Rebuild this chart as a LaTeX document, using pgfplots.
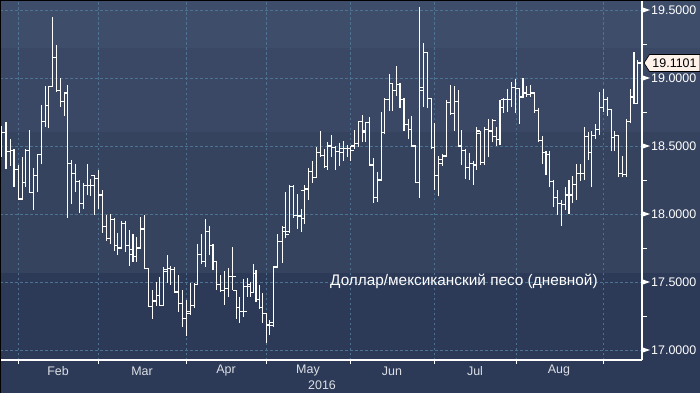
\documentclass[border=0pt]{standalone}
\usepackage{pgfplots}
\pgfplotsset{compat=1.18}
\usepackage{pgfplotstable}
\usepackage{fontspec}
\setmainfont{Liberation Sans}
\definecolor{bgA}{HTML}{3E4D6A}
\definecolor{bgB}{HTML}{3A4866}
\definecolor{bgC}{HTML}{35435F}
\definecolor{bgD}{HTML}{2C3957}
\definecolor{gridc}{HTML}{4E7291}
\definecolor{labc}{HTML}{DCE0E6}
\definecolor{tagc}{HTML}{FDF1EA}
\pgfdeclareplotmark{openTick}{\pgfpathmoveto{\pgfpoint{-3.4bp}{0pt}}\pgfpathlineto{\pgfpoint{0.5bp}{0pt}}\pgfusepathqstroke}
\pgfdeclareplotmark{closeTick}{\pgfpathmoveto{\pgfpoint{-0.5bp}{0pt}}\pgfpathlineto{\pgfpoint{3.4bp}{0pt}}\pgfusepathqstroke}
\pgfplotstableread{
x o h l c
1.7 18.50 18.65 18.42 18.60
6.0 18.60 18.68 18.33 18.46
10.3 18.46 18.55 18.35 18.47
14.0 18.47 18.48 18.20 18.33
18.3 18.33 18.36 18.10 18.11
22.3 18.11 18.42 18.11 18.23
25.3 18.23 18.48 18.20 18.47
29.3 18.47 18.62 18.16 18.16
33.3 18.16 18.34 18.03 18.28
37.3 18.28 18.40 18.16 18.44
41.3 18.44 18.80 18.37 18.68
45.3 18.68 18.94 18.64 18.80
48.3 18.80 18.94 18.63 18.94
52.3 18.94 19.45 18.94 19.15
56.3 19.15 19.24 18.90 18.91
60.3 18.91 19.00 18.79 18.83
64.3 18.83 18.89 18.72 18.89
67.7 18.89 18.95 17.97 18.37
71.3 18.37 18.40 18.07 18.30
75.3 18.30 18.37 18.16 18.24
79.3 18.24 18.25 18.01 18.08
83.3 18.08 18.23 18.04 18.21
87.3 18.21 18.37 18.14 18.21
90.3 18.21 18.26 18.13 18.21
94.3 18.28 18.29 17.99 18.26
98.3 18.26 18.32 18.04 18.14
102.3 18.14 18.18 17.86 17.91
106.3 17.91 17.99 17.80 17.82
110.3 17.82 18.00 17.78 17.96
114.3 17.96 17.97 17.73 17.77
117.7 17.77 17.86 17.70 17.75
121.7 17.75 17.95 17.75 17.93
125.7 17.93 17.95 17.72 17.77
129.3 17.77 17.88 17.62 17.74
133.0 17.70 17.85 17.65 17.69
136.7 17.69 17.83 17.65 17.75
140.3 17.75 17.98 17.75 17.89
144.3 17.89 17.99 17.60 17.60
148.7 17.60 17.60 17.32 17.32
152.7 17.32 17.44 17.23 17.36
156.3 17.36 17.50 17.32 17.40
159.7 17.40 17.54 17.32 17.33
163.7 17.33 17.61 17.32 17.58
167.3 17.59 17.70 17.49 17.60
170.3 17.60 17.62 17.48 17.59
174.3 17.59 17.61 17.42 17.43
178.3 17.42 17.55 17.28 17.34
182.3 17.34 17.44 17.17 17.23
186.3 17.23 17.37 17.10 17.27
190.3 17.28 17.49 17.26 17.33
194.3 17.33 17.49 17.31 17.48
197.7 17.48 17.78 17.48 17.70
201.7 17.70 17.85 17.63 17.65
205.7 17.65 17.96 17.61 17.87
209.3 17.87 17.91 17.70 17.77
213.0 17.77 17.78 17.59 17.65
216.7 17.65 17.65 17.44 17.48
220.3 17.48 17.55 17.43 17.44
224.3 17.44 17.58 17.33 17.45
228.7 17.45 17.60 17.39 17.54
232.7 17.54 17.76 17.44 17.54
236.3 17.44 17.44 17.23 17.31
239.7 17.31 17.39 17.20 17.28
243.7 17.28 17.52 17.24 17.28
247.3 17.47 17.53 17.39 17.47
250.3 17.48 17.50 17.39 17.42
253.3 17.42 17.63 17.42 17.56
256.0 17.56 17.59 17.35 17.37
259.3 17.37 17.48 17.30 17.31
262.3 17.31 17.42 17.20 17.27
266.3 17.27 17.27 17.05 17.18
269.3 17.19 17.22 17.11 17.18
273.3 17.20 17.62 17.17 17.61
277.3 17.61 17.85 17.61 17.80
282.3 17.80 17.91 17.64 17.90
285.7 17.87 18.16 17.82 17.85
289.3 17.87 18.21 17.86 18.20
293.3 18.20 18.21 17.97 17.99
297.3 17.99 18.15 17.89 17.99
301.3 17.98 18.04 17.87 17.97
304.3 18.17 18.21 17.93 18.18
308.3 18.19 18.34 18.10 18.31
312.3 18.31 18.39 18.23 18.27
316.3 18.27 18.49 18.27 18.45
320.3 18.45 18.61 18.42 18.43
324.3 18.43 18.48 18.34 18.35
327.3 18.35 18.53 18.32 18.50
331.3 18.50 18.58 18.42 18.49
335.3 18.49 18.50 18.32 18.46
339.3 18.46 18.52 18.35 18.45
343.3 18.48 18.54 18.39 18.48
347.3 18.48 18.51 18.42 18.48
350.3 18.48 18.50 18.39 18.47
354.3 18.50 18.62 18.48 18.52
358.3 18.52 18.68 18.49 18.68
362.3 18.68 18.73 18.53 18.61
365.7 18.60 18.68 18.53 18.67
369.3 18.67 18.71 18.36 18.36
373.3 18.36 18.41 18.08 18.12
377.7 18.12 18.31 18.09 18.25
381.7 18.25 18.75 18.25 18.60
384.3 18.60 18.85 18.59 18.84
389.3 18.84 19.03 18.76 18.96
392.7 18.96 18.96 18.76 18.91
396.7 18.91 19.09 18.87 18.95
400.0 18.95 18.96 18.78 18.84
404.0 18.84 18.85 18.61 18.66
408.3 18.66 18.70 18.55 18.62
411.7 18.62 18.72 18.50 18.50
415.3 18.50 18.50 18.23 18.23
419.3 18.23 19.52 18.12 18.93
423.3 18.91 19.26 18.79 19.19
427.3 19.19 19.19 18.78 18.85
431.3 18.85 18.85 18.48 18.49
434.7 18.49 18.67 18.18 18.28
438.7 18.28 18.43 18.13 18.37
442.7 18.40 18.44 18.35 18.43
446.7 18.42 18.84 18.42 18.82
450.7 18.82 18.95 18.73 18.74
454.3 18.74 18.94 18.61 18.83
458.3 18.83 18.91 18.50 18.50
461.7 18.50 18.62 18.36 18.47
465.7 18.47 18.48 18.26 18.34
469.3 18.34 18.45 18.25 18.37
473.3 18.37 18.39 18.21 18.36
476.7 18.36 18.64 18.32 18.61
480.7 18.59 18.61 18.36 18.38
484.7 18.38 18.64 18.36 18.62
488.5 18.62 18.70 18.42 18.61
492.4 18.61 18.70 18.53 18.69
496.2 18.57 18.64 18.50 18.55
500.0 18.55 18.84 18.51 18.78
503.9 18.84 18.85 18.74 18.84
507.7 18.84 18.92 18.75 18.84
511.5 18.84 18.97 18.79 18.93
515.3 18.93 18.99 18.74 18.92
519.2 18.92 18.92 18.66 18.86
523.0 18.86 19.00 18.86 18.89
526.8 18.89 18.94 18.86 18.88
530.7 18.88 18.95 18.86 18.89
534.5 18.89 18.89 18.74 18.76
538.3 18.76 18.78 18.53 18.54
542.2 18.54 18.57 18.37 18.45
546.0 18.45 18.46 18.29 18.44
549.8 18.44 18.46 18.20 18.24
553.6 18.24 18.25 18.05 18.12
557.5 18.12 18.18 17.99 18.08
561.3 18.08 18.10 17.91 18.07
565.1 18.07 18.20 18.03 18.14
569.0 18.14 18.25 18.00 18.14
572.8 18.14 18.28 18.08 18.22
576.6 18.22 18.37 18.10 18.30
580.4 18.30 18.37 18.24 18.30
584.3 18.30 18.64 18.25 18.57
588.1 18.57 18.60 18.40 18.45
591.9 18.45 18.61 18.20 18.58
595.8 18.58 18.66 18.55 18.62
599.6 18.62 18.90 18.58 18.78
603.4 18.78 18.92 18.75 18.84
607.2 18.84 18.86 18.72 18.77
611.1 18.77 18.77 18.46 18.56
614.9 18.56 18.61 18.46 18.58
618.7 18.58 18.58 18.27 18.30
622.6 18.30 18.43 18.27 18.29
626.4 18.29 18.70 18.27 18.68
630.2 18.68 18.92 18.67 18.86
634.0 18.86 19.19 18.81 18.81
637.9 18.81 19.13 18.81 19.11
}\ohlc
\begin{document}
\begin{tikzpicture}[x=1bp,y=1bp]
\fill[bgD] (0,-33) rectangle (700,87);
\fill[bgC] (0,87) rectangle (700,228);
\fill[bgB] (0,228) rectangle (700,312);
\fill[bgA] (0,312) rectangle (700,360);
\begin{axis}[
  at={(0,0)}, anchor=south west,
  width=642bp, height=360bp, scale only axis,
  xmin=0, xmax=642, ymin=16.92647, ymax=19.57353,
  axis line style={draw=none},
  xtick={18,98,186,266,350,434,516,603}, xticklabels={},
  ytick={17,17.5,18,18.5,19,19.5},
  yticklabels={17.0000,17.5000,18.0000,18.5000,19.0000,19.5000},
  yticklabel pos=right,
  yticklabel style={font=\fontsize{12.5}{14}\selectfont, text=white, anchor=west, inner sep=0pt, xshift=9bp},
  tick style={draw=none},
  grid=major,
  grid style={draw=gridc, line width=0.8bp, dash pattern=on 2.5bp off 2.5bp},
]
\addplot[draw=none, mark=none,
  error bars/.cd, y dir=both, y explicit, error mark=none,
  error bar style={draw=white, solid, line width=1.1bp}]
  table[x=x, y=c, y error plus expr={\thisrow{h}-\thisrow{c}}, y error minus expr={\thisrow{c}-\thisrow{l}}] {\ohlc};
\addplot[white, only marks, mark=openTick, mark options={draw=white, solid, line width=1.1bp}] table[x=x, y=o] {\ohlc};
\addplot[white, only marks, mark=closeTick, mark options={draw=white, solid, line width=1.1bp}] table[x=x, y=c] {\ohlc};
\end{axis}
% axis lines
\draw[white, line width=1.2bp] (0,0) -- (642,0);
\draw[white, line width=1.2bp] (642,0) -- (642,360);
\foreach \xx in {18,98,186,266,350,434,516,603} \draw[white, line width=1bp] (\xx,0) -- (\xx,-3.5);
\foreach \yy in {44,112,180,248,316} \draw[white, line width=1bp] (642,\yy) -- (646.5,\yy);
\foreach \yy in {10,78,146,214,282,350} \fill[white] (642,\yy+2.8) -- (650,\yy) -- (642,\yy-2.8) -- cycle;
% month labels
\foreach \xx/\mm in {58/Feb,142/Mar,226/Apr,308/May,392/Jun,475/Jul,559/Aug}
  \node[text=labc, font=\fontsize{12.5}{14}\selectfont, inner sep=0pt] at (\xx,-11) {\mm};
\node[text=labc, font=\fontsize{12.5}{14}\selectfont, inner sep=0pt] at (322,-25) {2016};
% series label
\node[anchor=base west, text=white, font=\fontsize{15.4}{17}\selectfont, inner sep=0pt] at (330,75) {Доллар/мексиканский песо (дневной)};
% last value tag
\filldraw[fill=tagc, draw=black, line width=0.7bp] (644,297) -- (649.5,305.5) -- (700,305.5) -- (700,288.5) -- (649.5,288.5) -- cycle;
\node[text=black, font=\fontsize{12.5}{14}\selectfont, inner sep=0pt] at (674.5,297) {19.1101};
% border lines
\fill[black] (0,359) rectangle (700,360);
\fill[black] (0,-33) rectangle (0.8,360);
\pgfresetboundingbox
\useasboundingbox (0,-33) rectangle (700,360);
\end{tikzpicture}
\end{document}
